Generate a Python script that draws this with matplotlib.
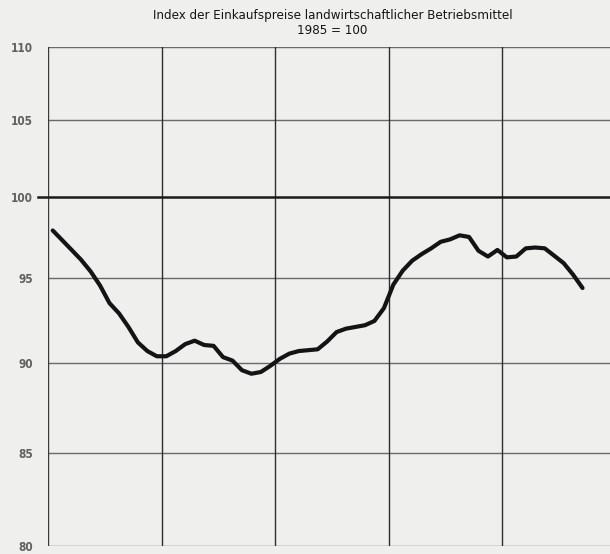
import numpy as np
import matplotlib
matplotlib.use("Agg")
import matplotlib.pyplot as plt

# monthly index values (1985 = 100)
months = np.arange(57) + 0.5
index = [97.9, 97.3, 96.7, 96.1, 95.4, 94.55, 93.5, 92.9, 92.1, 91.2,
         90.7, 90.4, 90.4, 90.7, 91.1, 91.3, 91.05, 91.0, 90.35, 90.15,
         89.6, 89.4, 89.5, 89.85, 90.25, 90.55, 90.7, 90.75, 90.8, 91.25,
         91.8, 92.0, 92.1, 92.2, 92.45, 93.2, 94.6, 95.45, 96.05, 96.45,
         96.8, 97.2, 97.35, 97.6, 97.5, 96.65, 96.3, 96.7, 96.25, 96.3,
         96.8, 96.85, 96.8, 96.35, 95.9, 95.2, 94.4]
year_lines = [12, 24, 36, 48]
y_ticks = [80, 85, 90, 95, 100, 105, 110]

title = "Index der Einkaufspreise landwirtschaftlicher Betriebsmittel"
subtitle = "1985 = 100"

fonts = ["DejaVu Sans"]
paper = "#efefed"

# the scanned page is slightly stretched towards the bottom
C = 0.0058


def fwd(v):
    u = 110 - np.asarray(v, dtype=float)
    return -(u + C * u * u)


def inv(w):
    w = -np.asarray(w, dtype=float)
    u = (-1 + np.sqrt(np.maximum(1 + 4 * C * w, 0))) / (2 * C)
    return 110 - u


fig = plt.figure(figsize=(6.10, 5.54), dpi=100, facecolor=paper)
ax = fig.add_axes([48 / 610, 8 / 554, 1 - 48 / 610, (546 - 47) / 554])
ax.set_facecolor(paper)
ax.set_yscale("function", functions=(fwd, inv))
ax.set_ylim(80, 110)
ax.set_xlim(0, 59.4)

for s in ax.spines.values():
    s.set_visible(False)

for y in y_ticks:
    if y == 100:
        ax.axhline(y, xmin=-0.018, color="#1a1a1a", lw=1.8, clip_on=False,
                   zorder=2)
    else:
        ax.axhline(y, color="#6a6a6a", lw=1.0, zorder=1)
ax.axvline(0, color="#3a3a3a", lw=1.0, zorder=1)
for x in year_lines:
    ax.axvline(x, color="#2e2e2e", lw=1.0, zorder=1)

ax.plot(months, index, color="#141414", lw=3.0, solid_capstyle="round",
        solid_joinstyle="round", zorder=3)

ax.set_xticks([])
ax.set_yticks(y_ticks)
ax.set_yticklabels([str(v) for v in y_ticks], family=fonts, fontsize=8.5,
                   color="#606060", weight="bold", stretch="condensed")
ax.tick_params(axis="y", length=0, pad=11)
ax.yaxis.set_minor_locator(matplotlib.ticker.NullLocator())

fig.text(333 / 610, 1 - 15 / 554, title, ha="center", va="center",
         family=fonts, fontsize=9.5, stretch="condensed", color="#151515")
fig.text(332 / 610, 1 - 31 / 554, subtitle, ha="center", va="center",
         family=fonts, fontsize=9.5, stretch="condensed", color="#151515")

fig.savefig("out.png", dpi=100, facecolor=paper)
